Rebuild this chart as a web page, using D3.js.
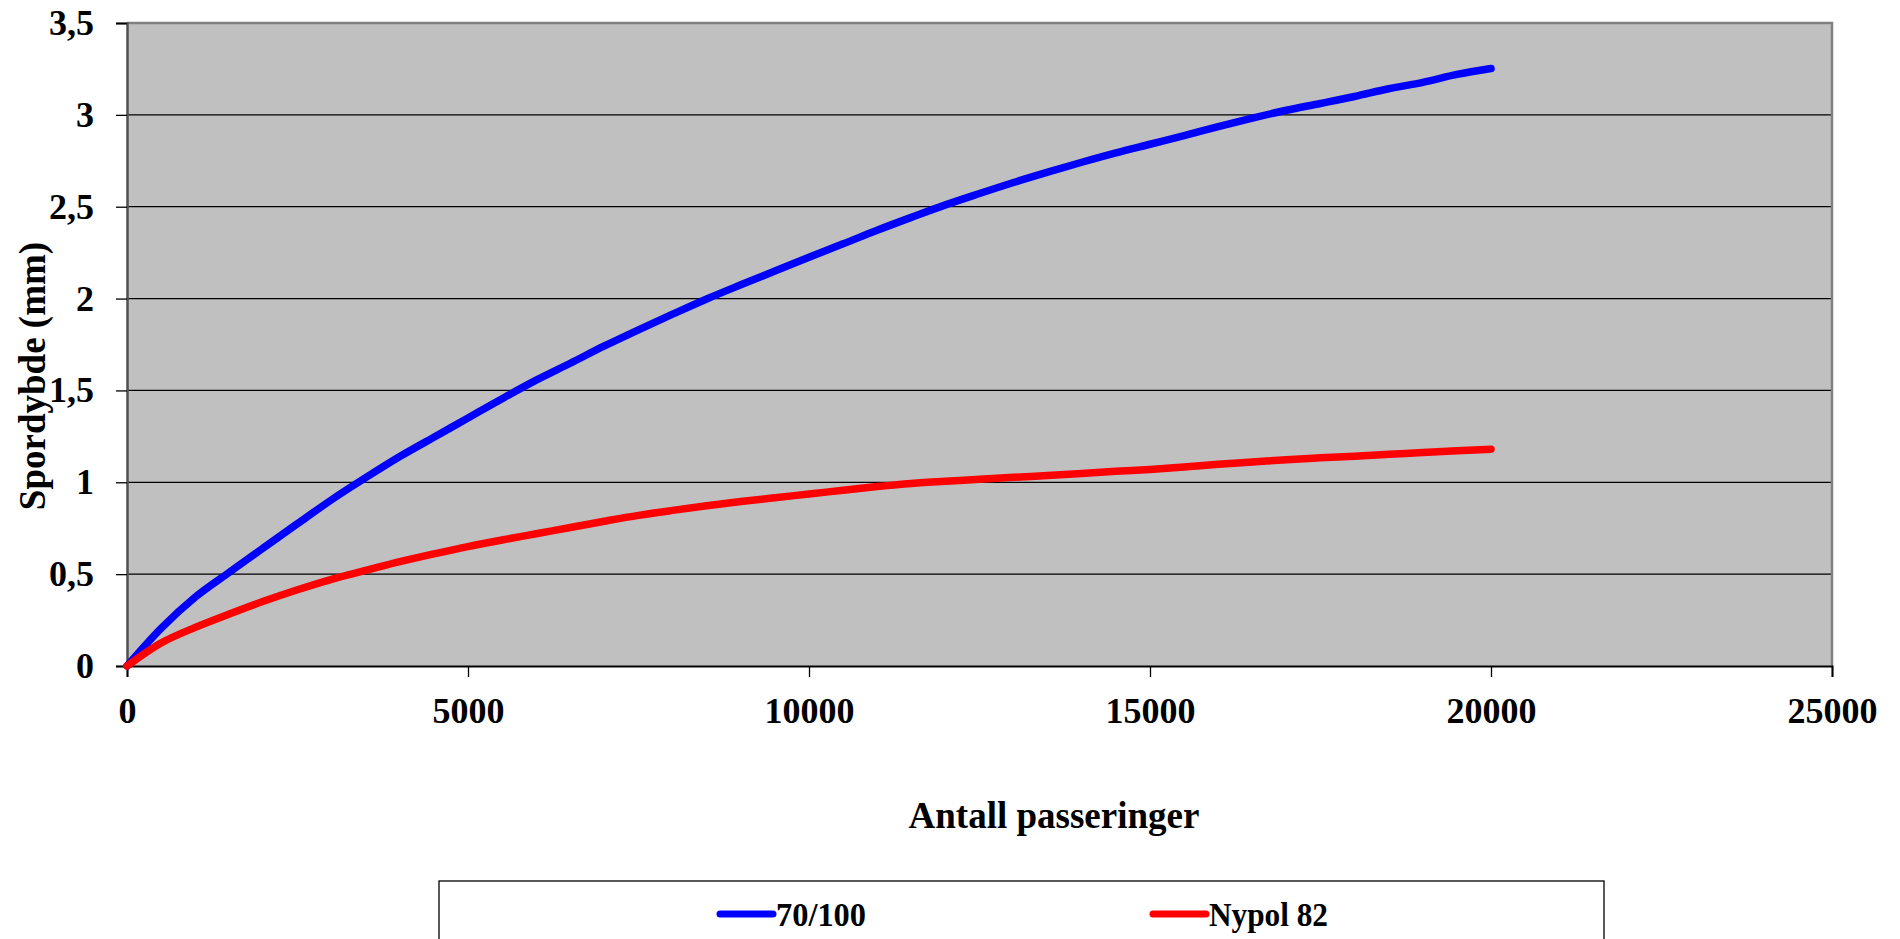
<!DOCTYPE html>
<html>
<head>
<meta charset="utf-8">
<script src="https://cdn.jsdelivr.net/npm/d3@7"></script>
<style>
  body { margin: 0; background: #ffffff; }
  svg text { font-family: "Liberation Serif", "Times New Roman", serif; font-weight: bold; fill: #000; }
</style>
</head>
<body>
<svg id="chart" width="1900" height="939"></svg>
<script>

// passes (x values) shared by both series
let passes = [0, 500, 1000, 1500, 2000, 2500, 3000, 3500, 4000, 4500, 5000,
              5500, 6000, 6500, 7000, 7500, 8000, 8500, 9000, 9500, 10000,
              10500, 11000, 11500, 12000, 12500, 13000, 13500, 14000, 14500, 15000,
              15500, 16000, 16500, 17000, 17500, 18000, 18500, 19000, 19500, 20000];

// rut depth, 70/100
let depth_70100 = [0, 0.205, 0.375, 0.51, 0.643, 0.775, 0.905, 1.025, 1.14, 1.245, 1.35,
                   1.455, 1.556, 1.648, 1.742, 1.83, 1.915, 1.998, 2.075, 2.15, 2.225,
                   2.298, 2.372, 2.442, 2.51, 2.572, 2.632, 2.688, 2.742, 2.793, 2.84,
                   2.887, 2.936, 2.982, 3.025, 3.062, 3.10, 3.142, 3.177, 3.22, 3.252];

// rut depth, Nypol 82
let depth_nypol = [0, 0.125, 0.21, 0.283, 0.352, 0.415, 0.472, 0.52, 0.568, 0.61, 0.65,
                   0.686, 0.72, 0.754, 0.788, 0.82, 0.847, 0.872, 0.895, 0.916, 0.936,
                   0.957, 0.977, 0.994, 1.006, 1.016, 1.027, 1.037, 1.048, 1.06, 1.07,
                   1.083, 1.098, 1.11, 1.123, 1.133, 1.142, 1.152, 1.162, 1.172, 1.18];

let series_names  = ["70/100", "Nypol 82"];
let series_colors = ["#0000ff", "#ff0000"];
let x_ticks = [0, 5000, 10000, 15000, 20000, 25000];
let y_ticks = [0, 0.5, 1, 1.5, 2, 2.5, 3, 3.5];

function draw_chart(svg_name){

    let chart = d3.select(svg_name);

    // plot area bounds
    let left = 127, right = 1832, top = 23, bottom = 666;

    let x = d3.scaleLinear().domain([0, 25000]).range([left, right]);
    let y = d3.scaleLinear().domain([0, 3.5]).range([bottom, top]);

    // grey plot background
    chart.append("rect")
        .attr("x", left).attr("y", top)
        .attr("width", right - left).attr("height", bottom - top)
        .attr("fill", "#c0c0c0");

    // horizontal gridlines
    chart.append("g").selectAll("line")
        .data(y_ticks.slice(1, -1)).enter()
            .append("line")
                .attr("x1", left).attr("x2", right)
                .attr("y1", function(d){ return y(d); })
                .attr("y2", function(d){ return y(d); })
                .attr("stroke", "#000").attr("stroke-width", 1.3);

    // top and right border
    chart.append("path")
        .attr("d", "M" + left + "," + top + "H" + right + "V" + bottom)
        .attr("fill", "none").attr("stroke", "#808080").attr("stroke-width", 2.5);

    // y axis
    let y_axis = chart.append("g")
        .attr("transform", "translate(" + left + ",0)")
        .call(d3.axisLeft(y).tickValues(y_ticks).tickSize(11).tickPadding(22)
              .tickFormat(function(d){ return String(d).replace(".", ","); }));
    y_axis.select(".domain").attr("stroke", "#505050").attr("stroke-width", 2.5);
    y_axis.selectAll(".tick line").attr("stroke", "#000").attr("stroke-width", 1.3);
    y_axis.selectAll("text").attr("font-size", 36).attr("dy", "0.32em")
          .attr("font-family", "Liberation Serif").attr("font-weight", "bold").attr("fill", "#000");

    // x axis
    let x_axis = chart.append("g")
        .attr("transform", "translate(0," + bottom + ")")
        .call(d3.axisBottom(x).tickValues(x_ticks).tickSize(11).tickPadding(20)
              .tickFormat(d3.format("d")));
    x_axis.select(".domain").attr("stroke", "#000").attr("stroke-width", 2);
    x_axis.selectAll(".tick line").attr("stroke", "#000").attr("stroke-width", 1.3);
    x_axis.selectAll("text").attr("font-size", 36).attr("dy", "0.72em")
          .attr("font-family", "Liberation Serif").attr("font-weight", "bold").attr("fill", "#000");

    // lines
    let all_values = [depth_70100, depth_nypol];
    let line = d3.line()
        .curve(d3.curveMonotoneX)
        .x(function(d){ return x(d[0]); })
        .y(function(d){ return y(d[1]); });

    all_values.forEach(function(vals, i){
        chart.append("path")
            .datum(passes.map(function(p, j){ return [p, vals[j]]; }))
            .attr("d", line)
            .attr("fill", "none")
            .attr("stroke", series_colors[i])
            .attr("stroke-width", 7.5)
            .attr("stroke-linecap", "round")
            .attr("stroke-linejoin", "round");
    });

    // axis titles
    chart.append("text")
        .attr("x", 1054).attr("y", 828)
        .attr("text-anchor", "middle")
        .attr("font-size", 37)
        .text("Antall passeringer");

    chart.append("text")
        .attr("transform", "translate(45,376) rotate(-90)")
        .attr("text-anchor", "middle")
        .attr("font-size", 37)
        .text("Spordybde (mm)");

    // legend box (runs off the bottom edge)
    chart.append("rect")
        .attr("x", 439).attr("y", 881)
        .attr("width", 1165).attr("height", 80)
        .attr("fill", "#fff").attr("stroke", "#000").attr("stroke-width", 1.3);

    let legend_x = [720, 1153];
    let legend_text_w = [90, 119];
    series_names.forEach(function(name, i){
        chart.append("line")
            .attr("x1", legend_x[i]).attr("x2", legend_x[i] + 53)
            .attr("y1", 914).attr("y2", 914)
            .attr("stroke", series_colors[i]).attr("stroke-width", 7)
            .attr("stroke-linecap", "round");
        chart.append("text")
            .attr("x", legend_x[i] + 56).attr("y", 926)
            .attr("font-size", 34)
            .attr("textLength", legend_text_w[i])
            .attr("lengthAdjust", "spacingAndGlyphs")
            .text(name);
    });

    return { chart: chart, x_scale: x, y_scale: y };
}

draw_chart("#chart");
</script>
</body>
</html>
